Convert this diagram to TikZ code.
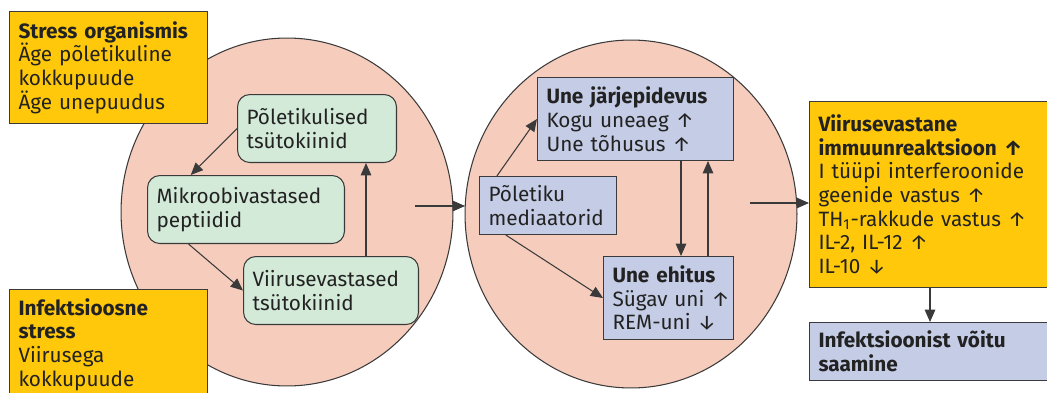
\documentclass[tikz,border=0pt]{standalone}
\usepackage{fontspec}
\setmainfont{Fira Sans}
\usetikzlibrary{arrows.meta,shapes.geometric}
\definecolor{gelb}{HTML}{FFC80A}
\definecolor{rosa}{HTML}{F6CDBD}
\definecolor{gruen}{HTML}{D3EAD8}
\definecolor{blau}{HTML}{C5CCE5}
\definecolor{rand}{HTML}{3A3A3A}
\definecolor{tinte}{HTML}{222222}
\begin{document}
\begin{tikzpicture}[x=0.02cm,y=-0.02cm,line width=0.6pt,
    kasten/.style={anchor=north west,draw=rand,inner xsep=0.18cm,inner ysep=0pt,
      align=left,text=tinte,font=\fontsize{11.8}{13.5}\selectfont},
    gelbbox/.style={kasten,fill=gelb},
    blaubox/.style={kasten,fill=blau},
    gruenbox/.style={kasten,fill=gruen,rounded corners=7pt},
    kreis/.style={ellipse,draw=rand,fill=rosa,minimum width=6.64cm,
      minimum height=6.96cm,inner sep=0pt,outer sep=0pt},
    pfeil/.style={draw=rand,-{Triangle[length=7pt,width=6pt]}}]
        \useasboundingbox (0,0) rectangle (1047,392);
        \clip (0,0) rectangle (1047,392);
        \node[kreis] (kreisA) at (287,212) {};
        \node[kreis] (kreisB) at (631,214) {};
        \begin{scope}[every node/.style={gelbbox}]
        \node[text width=3.6cm,minimum height=2.24cm] (stress) at (9,11)
          {\textbf{Stress organismis}\\Äge põletikuline\\kokkupuude\\Äge unepuudus};
        \node[text width=3.6cm,minimum height=2.2cm] (infekt) at (9,289)
          {\textbf{Infektsioosne}\\\textbf{stress}\\Viirusega\\kokkupuude};
        \node[text width=4.64cm,minimum height=3.72cm] (immuun) at (809,101)
          {\textbf{Viirusevastane}\\\textbf{immuunreaktsioon~↑}\\I tüüpi interferoonide\\geenide vastus~↑\\TH\textsubscript{1}-rakkude vastus~↑\\IL-2, IL-12~↑\\IL-10~↓};
        \end{scope}
        \begin{scope}[every node/.style={gruenbox,minimum height=1.36cm}]
        \node[text width=2.82cm] (pt) at (237,94) {Põletikulised\\tsütokiinid};
        \node[text width=3.58cm] (mikro) at (147,175) {Mikroobivastased\\peptiidid};
        \node[text width=3.14cm] (viirus) at (243,256) {Viirusevastased\\tsütokiinid};
        \end{scope}
        \begin{scope}[every node/.style={blaubox}]
        \node[text width=3.56cm,minimum height=1.66cm] (jarj) at (537,77)
          {\textbf{Une järjepidevus}\\Kogu uneaeg~↑\\Une tõhusus~↑};
        \node[text width=2.38cm,minimum height=1.16cm] (med) at (479,176)
          {Põletiku\\mediaatorid};
        \node[text width=2.24cm,minimum height=1.66cm] (ehitus) at (603,256)
          {\textbf{Une~ehitus}\\Sügav~uni~↑\\REM-uni~↓};
        \node[text width=4.64cm,minimum height=1.16cm] (voit) at (809,322)
          {\textbf{Infektsioonist võitu}\\\textbf{saamine}};
        \end{scope}
        \coordinate (a1) at (415,206);
        \coordinate (a2) at (750,203);
        \coordinate (xA) at (366,0);
        \coordinate (xB) at (681,0);
        \coordinate (xC) at (708,0);
        \coordinate (xD) at (930,0);
        \begin{scope}[every edge/.style={pfeil}]
        \path (pt.west) edge (mikro.148)
              (mikro.211) edge (viirus.west)
              (viirus.north -| xA) edge (pt.south -| xA)
              (a1) edge (a1 -| kreisB.west)
              (med.150) edge (jarj.west)
              (med.215) edge (ehitus.west)
              (jarj.south -| xB) edge (ehitus.north -| xB)
              (ehitus.north -| xC) edge (jarj.south -| xC)
              (a2) edge (a2 -| immuun.west)
              (immuun.south -| xD) edge (voit.north -| xD);
        \end{scope}
        \end{tikzpicture}
\end{document}
